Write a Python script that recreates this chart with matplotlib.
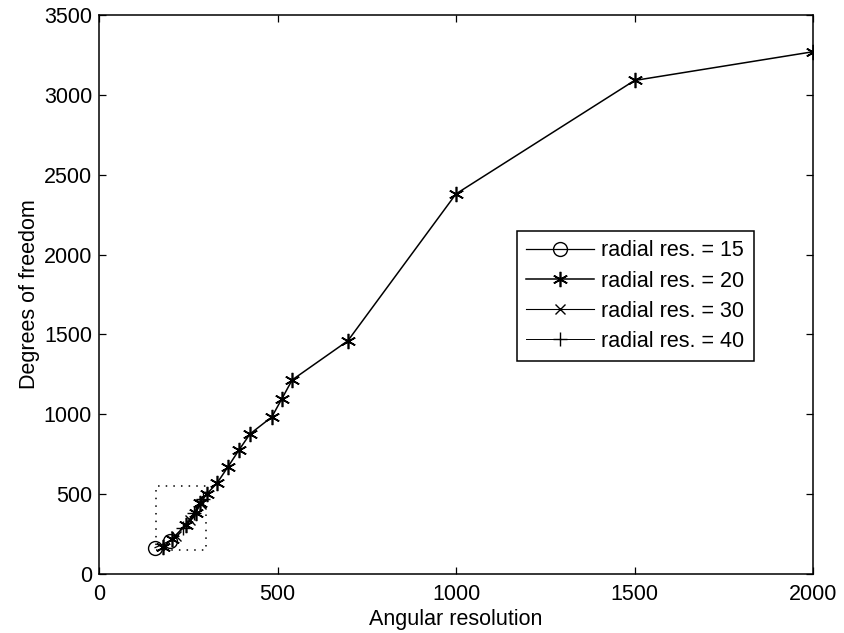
import matplotlib
matplotlib.use("Agg")
import matplotlib.pyplot as plt

# ---- data ----
res15_x = [157, 199]
res15_y = [165, 207]

res20_x = [180, 204, 244, 272, 283, 302, 331, 361, 392, 423, 484, 512, 541, 697, 1000, 1500, 2000]
res20_y = [169, 219, 307, 382, 444, 501, 570, 670, 776, 877, 983, 1096, 1215, 1460, 2380, 3090, 3270]

res30_x = [215, 255, 285]
res30_y = [240, 340, 440]

res40_x = [235, 265, 290]
res40_y = [290, 380, 470]

zoom_box_x = [160, 300, 300, 160, 160]
zoom_box_y = [150, 150, 550, 550, 150]

labels = ["radial res. = 15", "radial res. = 20", "radial res. = 30", "radial res. = 40"]
xticks = [0, 500, 1000, 1500, 2000]
yticks = [0, 500, 1000, 1500, 2000, 2500, 3000, 3500]

plt.rcParams['font.family'] = ['Liberation Sans', 'DejaVu Sans']
FS = 15.5

fig = plt.figure(figsize=(8.44, 6.33), dpi=100)
ax = fig.add_axes([99/844, 1 - 574/633, 714/844, 559/633])

asterisk = (6, 2, 0)
ax.plot(res15_x, res15_y, '-', color='black', lw=0.9, marker='o', ms=10,
        mfc='none', mec='black', mew=1.0, label=labels[0])
ax.plot(res20_x, res20_y, '-', color='black', lw=1.1, marker=asterisk, ms=11,
        mec='black', mew=1.2, label=labels[1])
ax.plot(res30_x, res30_y, '-', color='black', lw=0.8, marker='x', ms=7,
        mec='black', mew=1.0, label=labels[2])
ax.plot(res40_x, res40_y, '-', color='black', lw=0.7, marker='+', ms=10,
        mec='black', mew=1.0, label=labels[3])
ax.plot(zoom_box_x, zoom_box_y, linestyle=(0, (1, 4)), color='black', lw=1.1)

ax.set_xlim(0, 2000)
ax.set_ylim(0, 3500)
ax.set_xticks(xticks)
ax.set_yticks(yticks)
ax.tick_params(direction='in', top=True, right=True, length=5, width=0.9,
               labelsize=FS)
ax.tick_params(axis='x', pad=7)
ax.tick_params(axis='y', pad=5)
for s in ax.spines.values():
    s.set_linewidth(1.1)
    s.set_color('black')

ax.set_xlabel("Angular resolution", fontsize=FS, labelpad=3)
ax.set_ylabel("Degrees of freedom", fontsize=FS, labelpad=3)

leg = ax.legend(loc='upper left', bbox_to_anchor=(0.585, 0.614), borderaxespad=0,
                fontsize=FS, fancybox=False, edgecolor='black', framealpha=1,
                handlelength=3.15, handletextpad=0.33, labelspacing=0.42,
                borderpad=0.45)
leg.get_frame().set_linewidth(1.1)

fig.savefig("out.png", dpi=100)
